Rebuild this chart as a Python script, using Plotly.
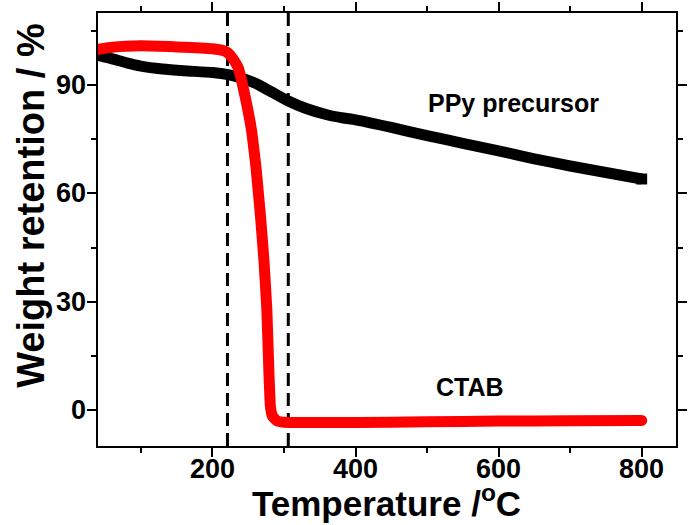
import plotly.graph_objects as go

# PPy precursor (black)
ppy_x = [40, 60, 80, 100, 130, 160, 200, 222, 240, 260, 280, 306, 330, 360, 383, 400, 450, 500, 550, 600, 650, 700, 750, 800]
ppy_y = [98.3, 97.3, 96.2, 95.3, 94.5, 94.0, 93.5, 92.9, 92.0, 90.5, 88.4, 85.6, 83.6, 81.8, 80.9, 80.4, 78.3, 76.0, 73.9, 71.8, 69.6, 67.6, 65.8, 64.0]

# CTAB (red)
ctab_x = [40, 60, 100, 150, 200, 215, 222, 228, 236, 247, 255, 261, 267, 272, 276, 279, 281, 284, 290, 300, 350, 400, 500, 600, 700, 800]
ctab_y = [99.9, 100.5, 100.9, 100.6, 100.1, 99.6, 98.9, 97.5, 94.8, 85.6, 77.0, 67.0, 54.0, 41.4, 28.0, 10.0, 1.0, -1.8, -3.0, -3.4, -3.5, -3.5, -3.3, -3.1, -3.0, -2.9]

# dashed guide positions (°C)
guide_x = [221, 306]

x_ticks = [200, 400, 600, 800]
y_ticks = [0, 30, 60, 90]

FONT = "Liberation Sans, Arial, sans-serif"

fig = go.Figure()
for gx in guide_x:
    fig.add_trace(go.Scatter(x=[gx, gx], y=[-10, 110], mode="lines",
                             line=dict(color="black", width=3, dash="13px,7px"),
                             showlegend=False, hoverinfo="skip"))

fig.add_trace(go.Scatter(x=ppy_x, y=ppy_y, mode="lines",
                         line=dict(color="black", width=11, shape="spline", smoothing=0.6),
                         showlegend=False))
fig.add_trace(go.Scatter(x=[ppy_x[0], ppy_x[-1]], y=[ppy_y[0], ppy_y[-1]], mode="markers",
                         marker=dict(color="black", size=11, symbol="square"), showlegend=False))
fig.add_trace(go.Scatter(x=ctab_x, y=ctab_y, mode="lines",
                         line=dict(color="#ff0000", width=11, shape="spline", smoothing=0.3),
                         showlegend=False))
fig.add_trace(go.Scatter(x=[ctab_x[0], ctab_x[-1]], y=[ctab_y[0], ctab_y[-1]], mode="markers",
                         marker=dict(color="#ff0000", size=11, symbol="circle"), showlegend=False))

axis_common = dict(
    showgrid=False, zeroline=False, showline=True, linecolor="black", linewidth=2,
    mirror="ticks", ticks="outside", ticklen=9, tickwidth=2, tickcolor="black",
    showticklabels=False,
)

fig.update_xaxes(range=[40, 848], tickvals=x_ticks,
                 minor=dict(dtick=100, tick0=0, ticks="outside", ticklen=5, tickwidth=2, tickcolor="black"),
                 **axis_common)
fig.update_yaxes(range=[-10, 110], tickvals=y_ticks,
                 minor=dict(dtick=15, tick0=0, ticks="outside", ticklen=5, tickwidth=2, tickcolor="black"),
                 **axis_common)

L, R, T, B = 98, 2, 12, 79
W, H = 689, 525
pw, ph = W - L - R, H - T - B

def px_to_paper_x(px):
    return (px - L) / pw

def px_to_paper_y(py):
    return (H - B - py) / ph

tick_font = dict(family=FONT, size=27, color="black", weight="bold")

annotations = []
for v in x_ticks:
    annotations.append(dict(text=str(v), xref="x", yref="paper", x=v, y=px_to_paper_y(469),
                            xanchor="center", yanchor="middle", showarrow=False, font=tick_font))
for v in y_ticks:
    annotations.append(dict(text=str(v), xref="paper", yref="y", x=px_to_paper_x(85), y=v,
                            xanchor="right", yanchor="middle", showarrow=False, font=tick_font,
                            xshift=3))

annotations += [
    dict(text="Weight retention / %", textangle=-90, xref="paper", yref="paper",
         x=px_to_paper_x(29), y=px_to_paper_y(205), xanchor="center", yanchor="middle",
         showarrow=False, font=dict(family=FONT, size=38, color="black", weight="bold")),
    dict(text="Temperature /<sup>o</sup>C", xref="paper", yref="paper",
         x=px_to_paper_x(392), y=px_to_paper_y(501), xanchor="center", yanchor="middle",
         showarrow=False, font=dict(family=FONT, size=35, color="black", weight="bold")),
    dict(text="PPy precursor", xref="x", yref="y", x=621, y=(90 - (102 - 84) / 3.619),
         xanchor="center", yanchor="middle", showarrow=False,
         font=dict(family=FONT, size=25, color="black", weight="bold")),
    dict(text="CTAB", xref="x", yref="y", x=560, y=(90 - (387 - 84) / 3.619),
         xanchor="center", yanchor="middle", showarrow=False,
         font=dict(family=FONT, size=25, color="black", weight="bold")),
]

fig.update_layout(
    width=W, height=H, margin=dict(l=L, r=R, t=T, b=B),
    paper_bgcolor="white", plot_bgcolor="white",
    annotations=annotations, showlegend=False,
)

fig.write_html("out.html")
